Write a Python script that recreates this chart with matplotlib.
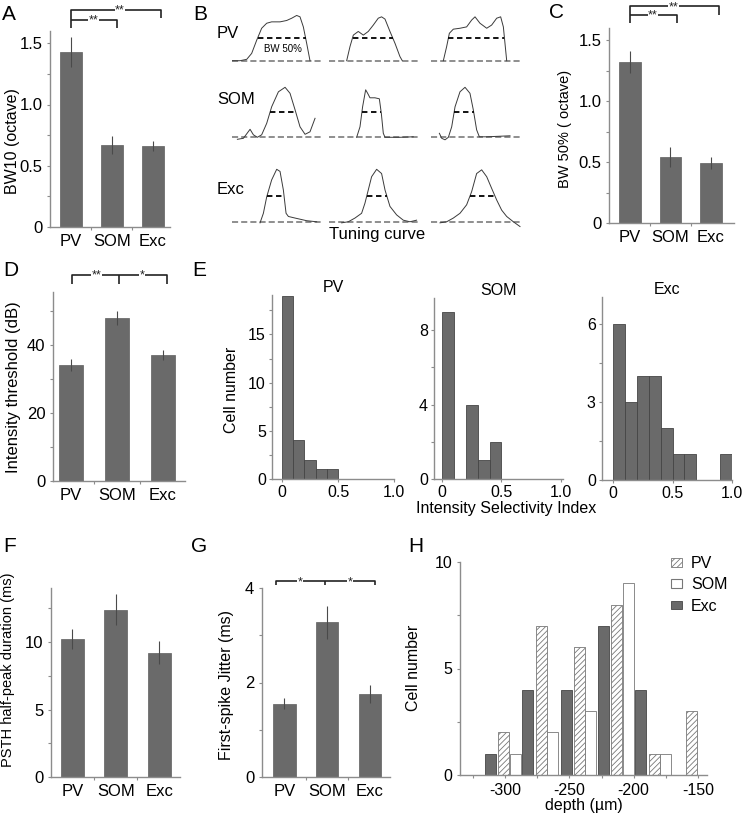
import numpy as np
import matplotlib
matplotlib.use('Agg')
import matplotlib.pyplot as plt
from matplotlib.patches import Patch
from matplotlib.transforms import blended_transform_factory
from matplotlib.ticker import FixedLocator

plt.rcParams['font.family'] = ['Liberation Sans', 'DejaVu Sans']
plt.rcParams['axes.unicode_minus'] = False
plt.rcParams['hatch.linewidth'] = 0.6
plt.rcParams['hatch.color'] = '#666666'

# ---------------- data ----------------
groups = ['PV', 'SOM', 'Exc']
bw10_mean = [1.43, 0.67, 0.66]
bw10_err = [0.12, 0.07, 0.04]
bw50_mean = [1.32, 0.54, 0.49]
bw50_err = [0.09, 0.08, 0.05]
thr_mean = [34.0, 47.8, 36.9]
thr_err = [1.8, 2.1, 1.5]
psth_mean = [10.2, 12.4, 9.2]
psth_err = [0.75, 1.15, 0.85]
jitter_mean = [1.55, 3.27, 1.75]
jitter_err = [0.12, 0.35, 0.19]

isi_edges = [0.0, 0.1, 0.2, 0.3, 0.4, 0.5, 0.6, 0.7, 0.8, 0.9, 1.0]
isi_pv_counts = [19, 4, 2, 1, 1, 0, 0, 0, 0, 0]
isi_som_counts = [9, 0, 4, 1, 2, 0, 0, 0, 0, 0]
isi_exc_counts = [6, 3, 4, 4, 2, 1, 1, 0, 0, 1]

depth_centers = [-301, -272, -242, -213, -184, -155]
depth_pv = [2, 7, 6, 8, 1, 3]
depth_som = [1, 2, 3, 9, 1, 0]
depth_exc = [1, 4, 4, 7, 4, 0]

# tuning curves (x: fraction of cell width, y: normalized response)
tc_pv1_x = [0.0, 0.093, 0.167, 0.222, 0.278, 0.333, 0.389, 0.444, 0.537, 0.611, 0.667, 0.722, 0.759, 0.796, 0.833, 0.870]
tc_pv1_y = [0.0, 0.0, 0.03, 0.16, 0.45, 0.71, 0.82, 0.85, 0.85, 0.88, 0.93, 0.99, 0.96, 0.74, 0.38, 0.0]
tc_pv2_x = [0.193, 0.230, 0.267, 0.322, 0.378, 0.433, 0.489, 0.544, 0.581, 0.619, 0.674, 0.730, 0.785, 0.811]
tc_pv2_y = [0.0, 0.31, 0.56, 0.64, 0.56, 0.64, 0.78, 0.93, 0.96, 0.91, 0.64, 0.38, 0.09, 0.0]
tc_pv3_x = [0.137, 0.174, 0.204, 0.248, 0.322, 0.396, 0.452, 0.489, 0.544, 0.619, 0.674, 0.730, 0.774, 0.804, 0.822, 0.841]
tc_pv3_y = [0.0, 0.31, 0.60, 0.69, 0.71, 0.74, 0.89, 0.96, 0.82, 0.71, 0.78, 0.93, 0.96, 0.74, 0.38, 0.0]
tc_som1_x = [0.063, 0.130, 0.167, 0.204, 0.241, 0.285, 0.333, 0.389, 0.444, 0.519, 0.593, 0.648, 0.704, 0.759, 0.815, 0.870, 0.926]
tc_som1_y = [-0.04, -0.02, 0.07, 0.16, 0.05, 0.0, 0.05, 0.28, 0.61, 0.91, 1.0, 0.88, 0.55, 0.21, 0.06, 0.11, 0.38]
tc_som2_x = [0.304, 0.341, 0.370, 0.404, 0.426, 0.452, 0.507, 0.556, 0.578, 0.600, 0.619, 0.785, 0.933]
tc_som2_y = [0.0, 0.21, 0.61, 0.95, 0.88, 0.79, 0.79, 0.77, 0.48, 0.08, 0.0, 0.0, 0.01]
tc_som3_x = [0.093, 0.119, 0.156, 0.193, 0.230, 0.267, 0.322, 0.378, 0.433, 0.470, 0.507, 0.537, 0.619, 0.878]
tc_som3_y = [0.08, -0.02, -0.05, 0.0, 0.21, 0.61, 0.91, 1.0, 0.88, 0.55, 0.15, 0.01, 0.01, 0.03]
tc_exc1_x = [0.315, 0.352, 0.389, 0.444, 0.500, 0.537, 0.574, 0.604, 0.630, 0.704, 0.833, 0.944]
tc_exc1_y = [-0.01, 0.17, 0.48, 0.80, 1.0, 0.96, 0.61, 0.17, 0.11, 0.08, 0.03, 0.01]
tc_exc2_x = [0.137, 0.211, 0.285, 0.359, 0.396, 0.433, 0.470, 0.526, 0.581, 0.619, 0.674, 0.748, 0.822, 0.896, 0.970]
tc_exc2_y = [-0.01, 0.01, 0.08, 0.17, 0.36, 0.61, 0.86, 1.0, 0.92, 0.61, 0.30, 0.14, 0.04, 0.01, 0.04]
tc_exc3_x = [0.100, 0.174, 0.248, 0.322, 0.396, 0.452, 0.507, 0.563, 0.619, 0.674, 0.730, 0.785, 0.841, 0.915, 0.989]
tc_exc3_y = [-0.01, 0.01, 0.08, 0.17, 0.33, 0.58, 0.92, 0.99, 0.86, 0.64, 0.42, 0.23, 0.11, 0.01, -0.08]

# ---------------- figure helpers ----------------
W, H = 742, 814
fig = plt.figure(figsize=(W / 100, H / 100), dpi=100)

SP = '#8c8c8c'
BAR = '#6a6a6a'


def add_ax(l, t, r, b):
    return fig.add_axes([l / W, 1 - b / H, (r - l) / W, (b - t) / H])


def style(ax, size=12, pad=3):
    for s in ['top', 'right']:
        ax.spines[s].set_visible(False)
    for s in ['left', 'bottom']:
        ax.spines[s].set_color(SP)
        ax.spines[s].set_linewidth(1.0)
    ax.tick_params(which='both', direction='out', color=SP, length=2.5, width=0.8,
                   labelsize=size, pad=pad)
    ax.tick_params(which='minor', length=2)


def ylab(ax, text, xc, yc, box, size):
    l, t, r, b = box
    ax.set_ylabel(text, fontsize=size)
    ax.yaxis.set_label_coords((xc - l) / (r - l), (b - yc) / (b - t))
    ax.yaxis.label.set_va('center')


def bar_panel(box, means, errs, ylim, yticks, yticklabels, yminor, xlim):
    ax = add_ax(*box)
    x = np.arange(len(groups))
    ax.bar(x, means, width=0.53, color=BAR, edgecolor='#5e5e5e', lw=0.5, zorder=2)
    ax.errorbar(x, means, yerr=errs, fmt='none', ecolor='#4a4a4a', elinewidth=0.8,
                capsize=0, zorder=3)
    ax.set_xlim(*xlim)
    ax.set_ylim(*ylim)
    ax.set_yticks(yticks)
    ax.set_yticklabels(yticklabels)
    ax.yaxis.set_minor_locator(FixedLocator(yminor))
    ax.set_xticks(x)
    ax.set_xticklabels(groups)
    ax.xaxis.set_minor_locator(FixedLocator([0.5, 1.5]))
    style(ax)
    ax.tick_params(axis='x', which='major', length=0, pad=5)
    return ax


def bracket(ax, segs, stars):
    tr = blended_transform_factory(ax.transData, ax.transAxes)
    for xs, ys in segs:
        ax.plot(xs, ys, color='#222222', lw=1.2, transform=tr, clip_on=False,
                solid_capstyle='butt')
    for xs, ys, s in stars:
        ax.text(xs, ys, s, transform=tr, ha='center', va='center', fontsize=9,
                color='#222222', bbox=dict(facecolor='white', edgecolor='none', pad=0.4))


def letter(x, y, s):
    fig.text(x / W, 1 - y / H, s, fontsize=15, ha='center', va='center')


# ---------------- Panel A ----------------
boxA = (50, 31, 170, 227)
axA = bar_panel(boxA, bw10_mean, bw10_err, (0, 1.6), [0, 0.5, 1.0, 1.5],
                ['0', '0.5', '1.0', '1.5'], [0.25, 0.75, 1.25], (-0.51, 2.42))
ylab(axA, 'BW10 (octave)', 13, 141, boxA, 11.5)
bracket(axA, [([0, 0, 2.2, 2.2], [1.014, 1.108, 1.108, 1.065]),
              ([0, 1.13, 1.13], [1.056, 1.056, 1.014])],
        [(1.2, 1.105, '**'), (0.56, 1.053, '**')])
letter(9, 14, 'A')

# ---------------- Panel C ----------------
boxC = (609, 28, 734, 223)
axC = bar_panel(boxC, bw50_mean, bw50_err, (0, 1.6), [0, 0.5, 1.0, 1.5],
                ['0', '0.5', '1.0', '1.5'], [0.25, 0.75, 1.25], (-0.52, 2.57))
ylab(axC, 'BW 50% ( octave)', 565, 129, boxC, 10.5)
bracket(axC, [([0, 0, 2.2, 2.2], [1.024, 1.112, 1.112, 1.065]),
              ([0, 1.15, 1.15], [1.065, 1.065, 1.024])],
        [(1.07, 1.106, '**'), (0.57, 1.062, '**')])
letter(556, 12, 'C')

# ---------------- Panel D ----------------
boxD = (53, 292, 185, 481)
axD = bar_panel(boxD, thr_mean, thr_err, (0, 55.5), [0, 20, 40], ['0', '20', '40'],
                [10, 30, 50], (-0.39, 2.48))
ylab(axD, 'Intensity threshold (dB)', 14, 387, boxD, 12)
bracket(axD, [([0.03, 0.03, 2.08, 2.08], [1.042, 1.09, 1.09, 1.042]),
              ([1.04, 1.04], [1.09, 1.042])],
        [(0.55, 1.087, '**'), (1.55, 1.087, '*')])
letter(11, 270, 'D')

# ---------------- Panel F ----------------
boxF = (51, 588, 180, 777)
axF = bar_panel(boxF, psth_mean, psth_err, (0, 14), [0, 5, 10], ['0', '5', '10'],
                [2.5, 7.5, 12.5], (-0.49, 2.48))
ylab(axF, 'PSTH half-peak duration (ms)', 8, 670, boxF, 10.5)
letter(10, 547, 'F')

# ---------------- Panel G ----------------
boxG = (262, 588, 390, 777)
axG = bar_panel(boxG, jitter_mean, jitter_err, (0, 4), [0, 2, 4], ['0', '2', '4'],
                [1, 3], (-0.52, 2.47))
ylab(axG, 'First-spike Jitter (ms)', 227, 685, boxG, 11.5)
bracket(axG, [([-0.19, -0.19, 2.12, 2.12], [1.014, 1.035, 1.035, 1.014]),
              ([0.95, 0.95], [1.035, 1.014])],
        [(0.37, 1.032, '*'), (1.53, 1.032, '*')])
letter(199, 547, 'G')

# ---------------- Panel E ----------------
def hist_panel(box, counts, ylim, yticks, yminor, xlim, title):
    ax = add_ax(*box)
    edges = np.array(isi_edges)
    c = np.array(counts, dtype=float)
    m = c > 0
    ax.bar(edges[:-1][m], c[m], width=np.diff(edges)[m], align='edge', color=BAR,
           edgecolor='#454545', lw=0.6)
    ax.set_xlim(*xlim)
    ax.set_ylim(*ylim)
    ax.set_yticks(yticks)
    ax.yaxis.set_minor_locator(FixedLocator(yminor))
    ax.set_xticks([0, 0.5, 1.0])
    ax.set_xticklabels(['0', '0.5', '1.0'])
    style(ax, size=11.5, pad=2)
    ax.set_title(title, fontsize=11.5, pad=2)
    return ax


axE1 = hist_panel((272, 295, 394, 479), isi_pv_counts, (0, 19.1), [0, 5, 10, 15],
                  [2.5, 7.5, 12.5, 17.5], (-0.09, 1.0), 'PV')
axE2 = hist_panel((434, 298, 563, 479), isi_som_counts, (0, 9.73), [0, 4, 8],
                  [2, 6], (-0.07, 1.02), 'SOM')
axE3 = hist_panel((602, 297, 732, 480), isi_exc_counts, (0, 7.05), [0, 3, 6],
                  [1.5, 4.5], (-0.093, 1.0), 'Exc')
fig.text(231 / W, 1 - 390 / H, 'Cell number', rotation=90, fontsize=11.5,
         ha='center', va='center')
fig.text(506 / W, 1 - 508 / H, 'Intensity Selectivity Index', fontsize=11.5,
         ha='center', va='center')
letter(199, 270, 'E')

# ---------------- Panel H ----------------
boxH = (460, 562, 707, 775)
axH = add_ax(*boxH)
dc = np.array(depth_centers, dtype=float)
bw = 8.6
m = np.array(depth_exc) > 0
axH.bar(dc[m] - 10.4, np.array(depth_exc)[m], width=bw, color=BAR, edgecolor='#454545', lw=0.6)
m = np.array(depth_pv) > 0
axH.bar(dc[m], np.array(depth_pv)[m], width=bw, color='white', edgecolor='#777777',
        lw=0.6, hatch='//////')
m = np.array(depth_som) > 0
axH.bar(dc[m] + 8.8, np.array(depth_som)[m], width=bw, color='white',
        edgecolor='#777777', lw=0.6)
axH.set_xlim(-335, -143)
axH.set_ylim(0, 10)
axH.set_yticks([0, 5, 10])
axH.yaxis.set_minor_locator(FixedLocator([2.5, 7.5]))
axH.set_xticks([-300, -250, -200, -150])
axH.xaxis.set_minor_locator(FixedLocator([-325, -275, -225, -175]))
style(axH, size=11.5)
axH.set_xlabel('depth (µm)', fontsize=11.5, labelpad=0)
ylab(axH, 'Cell number', 414, 668, boxH, 11.5)
handles = [Patch(facecolor='white', edgecolor='#777777', hatch='//////', lw=0.6),
           Patch(facecolor='white', edgecolor='#777777', lw=0.8),
           Patch(facecolor=BAR, edgecolor='#454545', lw=0.6)]
axH.legend(handles, groups, loc='upper left', bbox_to_anchor=(671 / W, 1 - 556 / H),
           bbox_transform=fig.transFigure, frameon=False, fontsize=11.5,
           handlelength=0.7, handleheight=0.45, handletextpad=0.55,
           labelspacing=0.4, borderpad=0, borderaxespad=0)
letter(416, 547, 'H')

# ---------------- Panel B ----------------
tc_x = [[tc_pv1_x, tc_pv2_x, tc_pv3_x],
        [tc_som1_x, tc_som2_x, tc_som3_x],
        [tc_exc1_x, tc_exc2_x, tc_exc3_x]]
tc_y = [[tc_pv1_y, tc_pv2_y, tc_pv3_y],
        [tc_som1_y, tc_som2_y, tc_som3_y],
        [tc_exc1_y, tc_exc2_y, tc_exc3_y]]
col_left = [231.7, 329.3, 431.0]
col_w = 90.0
row_base = [60.7, 137.3, 222.3]
row_h = [45.7, 50.0, 53.0]
row_label_y = [33, 99, 190]


def half_width(x, y, level=0.5):
    x = np.asarray(x)
    y = np.asarray(y)
    idx = np.where(y >= level)[0]
    i0, i1 = idx[0], idx[-1]
    xl = np.interp(level, [y[i0 - 1], y[i0]], [x[i0 - 1], x[i0]])
    xr = np.interp(level, [y[i1 + 1], y[i1]], [x[i1 + 1], x[i1]])
    return xl, xr


for r in range(3):
    for c in range(3):
        base, h = row_base[r], row_h[r]
        ax = add_ax(col_left[c], base - 1.1 * h, col_left[c] + col_w, base + 0.3 * h)
        ax.set_xlim(0, 1)
        ax.set_ylim(-0.3, 1.1)
        ax.axis('off')
        ax.plot([0, 1], [0, 0], color='#707070', lw=1.1, dashes=(4, 2))
        ax.plot(tc_x[r][c], tc_y[r][c], color='#3a3a3a', lw=0.7)
        xl, xr = half_width(tc_x[r][c], tc_y[r][c])
        ax.plot([xl, xr], [0.5, 0.5], color='black', lw=1.3, dashes=(3, 2))
        if r == 0 and c == 0:
            ax.text(0.57, 0.26, 'BW 50%', fontsize=7, ha='center', va='center')
    fig.text(217 / W, 1 - row_label_y[r] / H, groups[r], fontsize=12, ha='left', va='center')
fig.text(377 / W, 1 - 235 / H, 'Tuning curve', fontsize=12, ha='center', va='center')
letter(200, 14, 'B')

fig.savefig('out.png', dpi=100)
